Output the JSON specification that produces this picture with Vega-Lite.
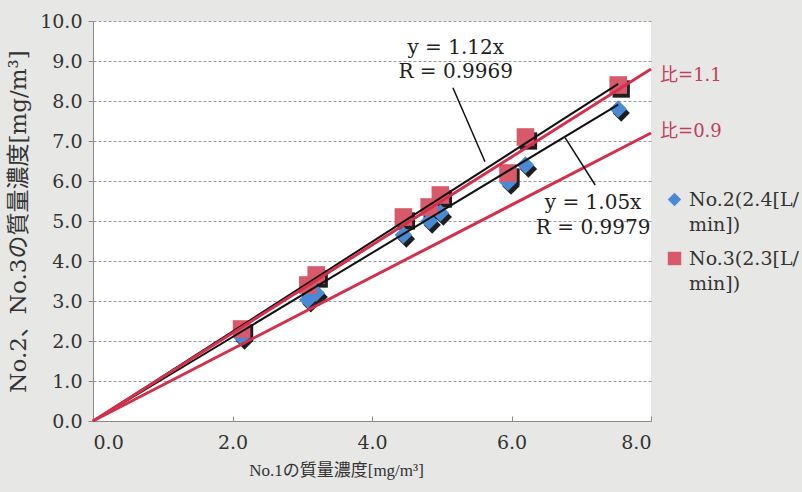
{
  "$schema": "https://vega.github.io/schema/vega-lite/v6.json",
  "width": 558,
  "height": 400,
  "autosize": "none",
  "padding": {"left": 93, "top": 21, "right": 151, "bottom": 71},
  "background": "#e7e7e5",
  "view": {"fill": "white", "stroke": null},
  "config": {
    "font": "DejaVu Serif, Noto Sans CJK JP",
    "style": {"guide-label": {"lineHeight": 25}},
    "axis": {
      "labelFont": "DejaVu Serif",
      "labelFontSize": 19,
      "labelColor": "#333333",
      "titleFontWeight": "normal",
      "titleColor": "#333333",
      "domainColor": "#8a8a8a",
      "tickColor": "#8a8a8a"
    }
  },
  "datasets": {
    "pts": [
      {"x": 2.13, "y": 2.1, "series": "No.2(2.4[L/min])"},
      {"x": 3.08, "y": 3.03, "series": "No.2(2.4[L/min])"},
      {"x": 3.2, "y": 3.2, "series": "No.2(2.4[L/min])"},
      {"x": 4.45, "y": 4.65, "series": "No.2(2.4[L/min])"},
      {"x": 4.82, "y": 5.0, "series": "No.2(2.4[L/min])"},
      {"x": 4.98, "y": 5.2, "series": "No.2(2.4[L/min])"},
      {"x": 5.95, "y": 5.97, "series": "No.2(2.4[L/min])"},
      {"x": 6.2, "y": 6.4, "series": "No.2(2.4[L/min])"},
      {"x": 7.53, "y": 7.8, "series": "No.2(2.4[L/min])"},
      {"x": 2.13, "y": 2.3, "series": "No.3(2.3[L/min])"},
      {"x": 3.08, "y": 3.4, "series": "No.3(2.3[L/min])"},
      {"x": 3.2, "y": 3.65, "series": "No.3(2.3[L/min])"},
      {"x": 4.45, "y": 5.1, "series": "No.3(2.3[L/min])"},
      {"x": 4.82, "y": 5.35, "series": "No.3(2.3[L/min])"},
      {"x": 4.98, "y": 5.65, "series": "No.3(2.3[L/min])"},
      {"x": 5.95, "y": 6.2, "series": "No.3(2.3[L/min])"},
      {"x": 6.2, "y": 7.1, "series": "No.3(2.3[L/min])"},
      {"x": 7.53, "y": 8.4, "series": "No.3(2.3[L/min])"}
    ],
    "lines": [
      {"x": 0, "y": 0, "line": "ratio1.1", "kind": "red"},
      {"x": 8, "y": 8.8, "line": "ratio1.1", "kind": "red"},
      {"x": 0, "y": 0, "line": "ratio0.9", "kind": "red"},
      {"x": 8, "y": 7.2, "line": "ratio0.9", "kind": "red"},
      {"x": 0, "y": 0, "line": "fit3", "kind": "black"},
      {"x": 7.53, "y": 8.43, "line": "fit3", "kind": "black"},
      {"x": 0, "y": 0, "line": "fit2", "kind": "black"},
      {"x": 7.53, "y": 7.91, "line": "fit2", "kind": "black"}
    ],
    "leaders": [
      {"x": 5.16, "y": 8.33, "x2": 5.62, "y2": 6.48},
      {"x": 6.77, "y": 7.08, "x2": 7.2, "y2": 5.9}
    ],
    "notes": [
      {"x": 5.2, "y": 9.33, "text": "y = 1.12x"},
      {"x": 5.2, "y": 8.72, "text": "R = 0.9969"},
      {"x": 7.17, "y": 5.45, "text": "y = 1.05x"},
      {"x": 7.17, "y": 4.83, "text": "R = 0.9979"}
    ],
    "rednotes": [
      {"x": 8.13, "y": 8.62, "text": "比=1.1"},
      {"x": 8.13, "y": 7.22, "text": "比=0.9"}
    ]
  },
  "encoding": {
    "x": {
      "field": "x", "type": "quantitative",
      "scale": {"domain": [0, 8], "nice": false, "zero": true},
      "axis": {
        "values": [0, 2, 4, 6, 8], "format": ".1f", "grid": false,
        "title": "No.1の質量濃度[mg/m³]",
        "titleFont": "Liberation Serif, Noto Sans CJK JP", "titleFontSize": 17,
        "titleX": 243, "titleAlign": "center",
        "labelPadding": 17, "titlePadding": 10,
        "tickSize": -5
      }
    },
    "y": {
      "field": "y", "type": "quantitative",
      "scale": {"domain": [0, 10], "nice": false},
      "axis": {
        "values": [0, 1, 2, 3, 4, 5, 6, 7, 8, 9, 10], "format": ".1f",
        "grid": true, "gridColor": "#9a9a9a", "gridDash": [3, 2], "gridWidth": 1,
        "title": "No.2、No.3の質量濃度[mg/m³]",
        "titleFont": "DejaVu Serif, Noto Sans CJK JP", "titleFontSize": 23,
        "labelPadding": 6, "titlePadding": 9,
        "tickSize": 5
      }
    }
  },
  "layer": [
    {
      "data": {"name": "pts"},
      "transform": [{"filter": "datum.series == 'No.2(2.4[L/min])'"}],
      "mark": {"type": "point", "shape": "diamond", "filled": true, "size": 300, "color": "#1e1e1e", "opacity": 1, "xOffset": 3, "yOffset": 4},
      "encoding": {}
    },
    {
      "data": {"name": "pts"},
      "transform": [{"filter": "datum.series == 'No.3(2.3[L/min])'"}],
      "mark": {"type": "point", "shape": "square", "filled": true, "size": 300, "color": "#1e1e1e", "opacity": 1, "xOffset": 3, "yOffset": 4},
      "encoding": {}
    },
    {
      "data": {"name": "pts"},
      "mark": {"type": "point", "filled": true, "size": 310, "opacity": 1, "strokeWidth": 0},
      "encoding": {
        "color": {
          "field": "series", "type": "nominal",
          "scale": {"domain": ["No.2(2.4[L/min])", "No.3(2.3[L/min])"], "range": ["#4a8ad4", "#d85a6a"]},
          "legend": {
            "title": null, "orient": "none", "legendX": 572, "legendY": 169,
            "labelFont": "DejaVu Serif", "labelFontSize": 19, "labelColor": "#333333",
            "labelExpr": "[slice(datum.label, 0, 11), slice(datum.label, 11)]",
            "labelLimit": 0, "symbolSize": 180, "rowPadding": 14, "labelOffset": 5,
            "symbolStrokeWidth": 0
          }
        },
        "shape": {
          "field": "series", "type": "nominal",
          "scale": {"domain": ["No.2(2.4[L/min])", "No.3(2.3[L/min])"], "range": ["diamond", "square"]}
        }
      }
    },
    {
      "data": {"name": "lines"},
      "transform": [{"filter": "datum.kind == 'black'"}],
      "mark": {"type": "line", "color": "#111111", "strokeWidth": 2},
      "encoding": {"detail": {"field": "line"}}
    },
    {
      "data": {"name": "lines"},
      "transform": [{"filter": "datum.kind == 'red'"}],
      "mark": {"type": "line", "color": "#d3304c", "strokeWidth": 3},
      "encoding": {"detail": {"field": "line"}}
    },
    {
      "data": {"name": "leaders"},
      "mark": {"type": "rule", "color": "#111111", "strokeWidth": 1.5},
      "encoding": {"x2": {"field": "x2"}, "y2": {"field": "y2"}}
    },
    {
      "data": {"name": "notes"},
      "mark": {"type": "text", "font": "DejaVu Serif", "fontSize": 20, "color": "#222222", "align": "center", "baseline": "middle"},
      "encoding": {"text": {"field": "text"}}
    },
    {
      "data": {"name": "rednotes"},
      "mark": {"type": "text", "font": "DejaVu Serif, Noto Sans CJK JP", "fontSize": 18, "color": "#c0405a", "align": "left", "baseline": "middle"},
      "encoding": {"text": {"field": "text"}}
    }
  ]
}
